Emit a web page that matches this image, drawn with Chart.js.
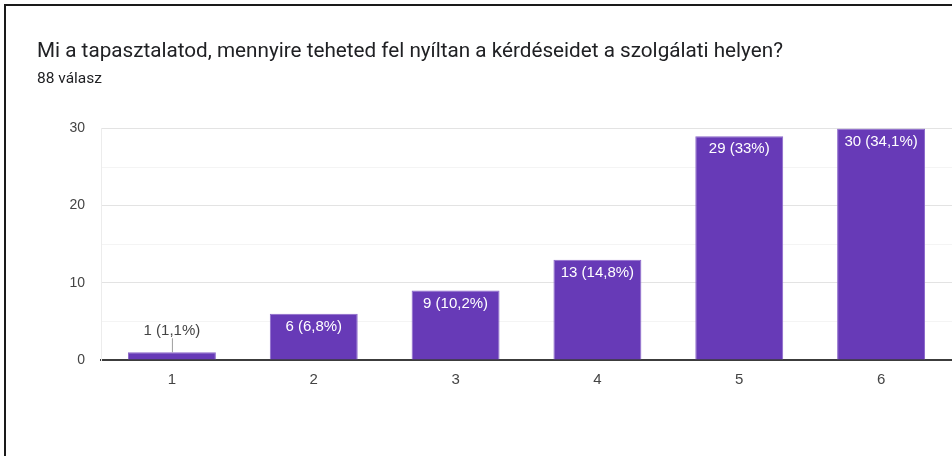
<!DOCTYPE html>
<html>
<head>
<meta charset="utf-8">
<script src="https://cdn.jsdelivr.net/npm/chart.js"></script>
<style>
  body { margin: 0; background: #fff; overflow: hidden; }
  #wrap { position: relative; width: 952px; height: 456px; }
  #frame { position: absolute; left: 4px; top: 4px; right: -10px; bottom: -10px;
           border-left: 2px solid #1a1a1a; border-top: 2px solid #1a1a1a; pointer-events: none; }
  canvas { position: absolute; left: 0; top: 0; }
</style>
</head>
<body>
<div id="wrap">
  <canvas id="chart" width="952" height="456"></canvas>
  <div id="frame"></div>
</div>
<script>
  var categories = ['1', '2', '3', '4', '5', '6'];
  var answers = [1, 6, 9, 13, 29, 30];
  var percents = ['1,1%', '6,8%', '10,2%', '14,8%', '33%', '34,1%'];
  var yTicks = [0, 10, 20, 30];

  // value labels: inside the bar, or above it with a small leader line if the bar is too short
  var barLabels = {
    id: 'barLabels',
    afterDatasetsDraw: function(chart) {
      var ctx = chart.ctx;
      var meta = chart.getDatasetMeta(0);
      ctx.save();
      ctx.font = '15px "Liberation Sans", Arial, sans-serif';
      ctx.textAlign = 'center';
      ctx.textBaseline = 'middle';
      meta.data.forEach(function(bar, i) {
        var text = answers[i] + ' (' + percents[i] + ')';
        if (bar.base - bar.y > 24) {
          ctx.fillStyle = '#ffffff';
          ctx.fillText(text, bar.x, bar.y + 13);
        } else {
          ctx.strokeStyle = '#9e9e9e';
          ctx.lineWidth = 1;
          ctx.beginPath();
          ctx.moveTo(bar.x + 0.5, bar.y);
          ctx.lineTo(bar.x + 0.5, bar.y - 14);
          ctx.stroke();
          ctx.fillStyle = '#444444';
          ctx.fillText(text, bar.x, bar.y - 21);
        }
      });
      ctx.restore();
    }
  };

  window.onload = function() {
    var ctx = document.getElementById('chart');
    var myBarChart = new Chart(ctx, {
      type: 'bar',
      data: {
        labels: categories,
        datasets: [{
          data: answers,
          backgroundColor: '#673ab7',
          borderColor: '#8a66c9',
          borderWidth: 1,
          barPercentage: 0.62,
          categoryPercentage: 1.0
        }]
      },
      options: {
        responsive: false,
        animation: false,
        layout: { padding: { left: 37, top: 0, right: 0, bottom: 0 } },
        plugins: {
          legend: { display: false },
          tooltip: { enabled: false },
          title: {
            display: true,
            align: 'start',
            text: 'Mi a tapasztalatod, mennyire teheted fel nyíltan a kérdéseidet a szolgálati helyen?',
            color: '#202124',
            font: { family: 'Roboto', size: 20.7, weight: 'normal' },
            padding: { top: 39, bottom: 4 }
          },
          subtitle: {
            display: true,
            align: 'start',
            text: '88 válasz',
            color: '#202124',
            font: { family: 'Roboto', size: 15.5, weight: 'normal' },
            padding: { top: 2, bottom: 40 }
          }
        },
        scales: {
          x: {
            grid: { display: false, drawTicks: false },
            border: { color: '#3c3c3c', width: 2 },
            ticks: {
              color: '#444444',
              padding: 11,
              font: { family: '"Liberation Sans", Arial, sans-serif', size: 15 }
            },
            afterFit: function(scale) { scale.height = 96; }
          },
          y: {
            min: 0,
            max: 30,
            grid: {
              drawTicks: false,
              color: function(c) { return yTicks.indexOf(c.tick.value) >= 0 ? '#e3e3e3' : '#f4f4f4'; }
            },
            border: { color: '#ececec' },
            ticks: {
              stepSize: 5,
              color: '#444444',
              padding: 16,
              font: { family: '"Liberation Sans", Arial, sans-serif', size: 14 },
              callback: function(v) { return yTicks.indexOf(v) >= 0 ? v : ''; }
            },
            afterFit: function(scale) { scale.width = 64; }
          }
        }
      },
      plugins: [barLabels]
    });
  };
</script>
</body>
</html>
